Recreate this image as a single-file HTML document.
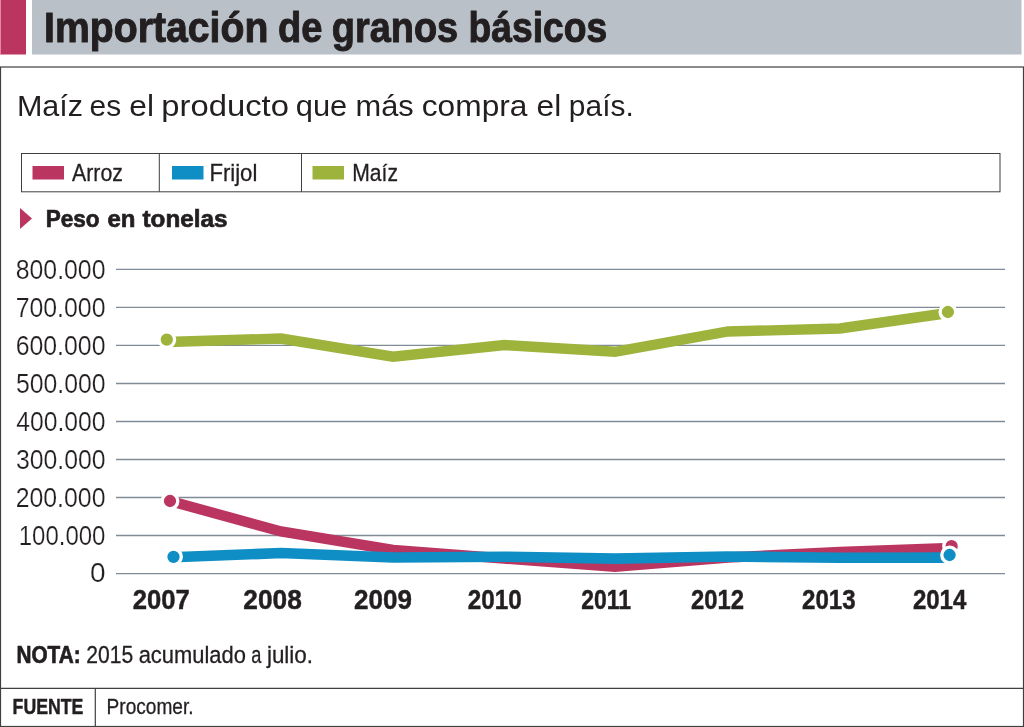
<!DOCTYPE html>
<html lang="es">
<head>
<meta charset="utf-8">
<title>Importación de granos básicos</title>
<style>
html,body{margin:0;padding:0;background:#fff;}
body{width:1024px;height:727px;overflow:hidden;position:relative;}
svg{position:absolute;left:0;top:0;display:block;}
text{font-family:"Liberation Sans",sans-serif;fill:#231f20;white-space:pre;}
.b{font-weight:bold;}
.h{stroke:#231f20;stroke-width:.45;}
.t{stroke:#231f20;stroke-width:1.0;stroke-linejoin:round;}
.m{stroke:#231f20;stroke-width:.3;}
.p{stroke:#231f20;stroke-width:.7;}
.l{stroke:#fff;stroke-width:.2;paint-order:fill stroke;}
</style>
</head>
<body>
<svg width="1024" height="727" viewBox="0 0 1024 727">
  <!-- header -->
  <rect x="0" y="0" width="26" height="54.5" fill="#bb3561"/>
  <rect x="0" y="0" width="0.9" height="54.5" fill="#ee90b0"/>
  <rect x="32" y="0" width="989.5" height="54.5" fill="#b9c0c8"/>
  <text class="b t" y="41.8" font-size="43.0"><tspan x="44.05" textLength="224.31" lengthAdjust="spacingAndGlyphs">Importación</tspan> <tspan x="277.98" textLength="44.43" lengthAdjust="spacingAndGlyphs">de</tspan> <tspan x="331.78" textLength="126.4" lengthAdjust="spacingAndGlyphs">granos</tspan> <tspan x="468.48" textLength="138.73" lengthAdjust="spacingAndGlyphs">básicos</tspan></text>
  <!-- frame -->
  <rect x="0.5" y="67" width="1023" height="659.5" fill="#fff" stroke="#3f3f41" stroke-width="1.2"/>
  <line x1="0" y1="688.3" x2="1024" y2="688.3" stroke="#3f3f41" stroke-width="1.2"/>
  <line x1="95.3" y1="688" x2="95.3" y2="727" stroke="#3f3f41" stroke-width="1.2"/>
  <!-- subtitle -->
  <text y="116.3" font-size="29"><tspan x="16.96" textLength="66.13" lengthAdjust="spacingAndGlyphs">Maíz</tspan> <tspan x="89.55" textLength="31.63" lengthAdjust="spacingAndGlyphs">es</tspan> <tspan x="129.27" textLength="24.7" lengthAdjust="spacingAndGlyphs">el</tspan> <tspan x="161.37" textLength="127.6" lengthAdjust="spacingAndGlyphs">producto</tspan> <tspan x="295.76" textLength="51.53" lengthAdjust="spacingAndGlyphs">que</tspan> <tspan x="355.6" textLength="58.15" lengthAdjust="spacingAndGlyphs">más</tspan> <tspan x="421.77" textLength="105.71" lengthAdjust="spacingAndGlyphs">compra</tspan> <tspan x="536.57" textLength="24.7" lengthAdjust="spacingAndGlyphs">el</tspan> <tspan x="568.85" textLength="64.93" lengthAdjust="spacingAndGlyphs">país.</tspan></text>
  <!-- legend -->
  <rect x="21.5" y="153.5" width="978.5" height="38.3" fill="#fff" stroke="#3f3f41" stroke-width="1"/>
  <line x1="159.3" y1="153.5" x2="159.3" y2="191.8" stroke="#3f3f41" stroke-width="1"/>
  <line x1="301.5" y1="153.5" x2="301.5" y2="191.8" stroke="#3f3f41" stroke-width="1"/>
  <rect x="32.5" y="166" width="31.5" height="13.5" fill="#bb3561"/>
  <rect x="172" y="166" width="31.5" height="13.5" fill="#0e8ec4"/>
  <rect x="312.5" y="166" width="31.5" height="13.5" fill="#9db33c"/>
  <text class="m" y="180.5" font-size="24.3"><tspan x="72.04" textLength="50.86" lengthAdjust="spacingAndGlyphs">Arroz</tspan></text>
  <text class="m" y="180.5" font-size="24.3"><tspan x="209.38" textLength="47.94" lengthAdjust="spacingAndGlyphs">Frijol</tspan></text>
  <text class="m" y="180.5" font-size="24.3"><tspan x="352.21" textLength="45.74" lengthAdjust="spacingAndGlyphs">Maíz</tspan></text>
  <!-- axis title -->
  <polygon points="20,208 32,218.5 20,229" fill="#bb3561"/>
  <text class="b p" y="227" font-size="24.6"><tspan x="45.69" textLength="53.87" lengthAdjust="spacingAndGlyphs">Peso</tspan> <tspan x="107.39" textLength="27.94" lengthAdjust="spacingAndGlyphs">en</tspan> <tspan x="142.51" textLength="84.94" lengthAdjust="spacingAndGlyphs">tonelas</tspan></text>
  <!-- grid -->
  <g stroke="#7f8b97" stroke-width="1.4">
    <line x1="116" y1="269.4" x2="1005" y2="269.4"/>
    <line x1="116" y1="307.4" x2="1005" y2="307.4"/>
    <line x1="116" y1="345.4" x2="1005" y2="345.4"/>
    <line x1="116" y1="383.5" x2="1005" y2="383.5"/>
    <line x1="116" y1="421.5" x2="1005" y2="421.5"/>
    <line x1="116" y1="459.5" x2="1005" y2="459.5"/>
    <line x1="116" y1="497.5" x2="1005" y2="497.5"/>
    <line x1="116" y1="535.5" x2="1005" y2="535.5"/>
    <line x1="116" y1="573.6" x2="1005" y2="573.6"/>
  </g>
  <text class="l" y="278.5" font-size="27.5"><tspan x="15.78" textLength="89.71" lengthAdjust="spacingAndGlyphs">800.000</tspan></text>
  <text class="l" y="316.5" font-size="27.5"><tspan x="15.66" textLength="89.83" lengthAdjust="spacingAndGlyphs">700.000</tspan></text>
  <text class="l" y="354.5" font-size="27.5"><tspan x="15.66" textLength="89.83" lengthAdjust="spacingAndGlyphs">600.000</tspan></text>
  <text class="l" y="392.6" font-size="27.5"><tspan x="15.91" textLength="89.58" lengthAdjust="spacingAndGlyphs">500.000</tspan></text>
  <text class="l" y="430.6" font-size="27.5"><tspan x="16.28" textLength="89.2" lengthAdjust="spacingAndGlyphs">400.000</tspan></text>
  <text class="l" y="468.6" font-size="27.5"><tspan x="15.91" textLength="89.58" lengthAdjust="spacingAndGlyphs">300.000</tspan></text>
  <text class="l" y="506.6" font-size="27.5"><tspan x="15.66" textLength="89.83" lengthAdjust="spacingAndGlyphs">200.000</tspan></text>
  <text class="l" y="544.6" font-size="27.5"><tspan x="18.7" textLength="86.76" lengthAdjust="spacingAndGlyphs">100.000</tspan></text>
  <text class="l" y="582.3" font-size="27.5"><tspan x="90.08" textLength="15.57" lengthAdjust="spacingAndGlyphs">0</tspan></text>
  <!-- series -->
  <g fill="none" stroke-width="10.4" stroke-linejoin="miter" stroke-linecap="butt">
    <polyline stroke="#9db33c" points="167,342 281,338.5 393,356.7 504.5,345 615,351.8 728,331.5 840,328.5 948,313"/>
    <polyline stroke="#bb3561" points="170,501 281,531.5 393,550 504,558.5 615,566.7 728,557.5 840,552 951,548"/>
    <polyline stroke="#0e8ec4" stroke-width="10.6" points="173,557.3 281,553 393,557.5 504,556.7 615,558.6 728,556.5 840,557.8 950,557.6"/>
  </g>
  <g stroke="#fff" stroke-width="3.3">
    <circle cx="166.8" cy="339.6" r="7.8" fill="#9db33c"/>
    <circle cx="947.9" cy="312" r="7.8" fill="#9db33c"/>
    <circle cx="170" cy="501" r="7.8" fill="#bb3561"/>
    <circle cx="951.6" cy="546.2" r="7.8" fill="#bb3561"/>
    <circle cx="173.5" cy="556.8" r="7.8" fill="#0e8ec4"/>
    <circle cx="949.6" cy="555" r="7.8" fill="#0e8ec4"/>
  </g>
  <!-- years -->
  <text class="b h" y="608.5" font-size="27.3"><tspan x="132.63" textLength="57.04" lengthAdjust="spacingAndGlyphs">2007</tspan></text>
  <text class="b h" y="608.5" font-size="27.3"><tspan x="243.3" textLength="58.5" lengthAdjust="spacingAndGlyphs">2008</tspan></text>
  <text class="b h" y="608.5" font-size="27.3"><tspan x="354.01" textLength="57.97" lengthAdjust="spacingAndGlyphs">2009</tspan></text>
  <text class="b h" y="608.5" font-size="27.3"><tspan x="467.78" textLength="53.96" lengthAdjust="spacingAndGlyphs">2010</tspan></text>
  <text class="b h" y="608.5" font-size="27.3"><tspan x="581.22" textLength="49.82" lengthAdjust="spacingAndGlyphs">2011</tspan></text>
  <text class="b h" y="608.5" font-size="27.3"><tspan x="690.99" textLength="53.03" lengthAdjust="spacingAndGlyphs">2012</tspan></text>
  <text class="b h" y="608.5" font-size="27.3"><tspan x="801.98" textLength="53.63" lengthAdjust="spacingAndGlyphs">2013</tspan></text>
  <text class="b h" y="608.5" font-size="27.3"><tspan x="912.88" textLength="53.5" lengthAdjust="spacingAndGlyphs">2014</tspan></text>
  <!-- note -->
  <text class="b p" y="662.5" font-size="24.5"><tspan x="16.4" textLength="64.16" lengthAdjust="spacingAndGlyphs">NOTA:</tspan></text>
  <text class="m" y="662.5" font-size="24.5"><tspan x="86.3" textLength="46.89" lengthAdjust="spacingAndGlyphs">2015</tspan> <tspan x="138.66" textLength="107.21" lengthAdjust="spacingAndGlyphs">acumulado</tspan> <tspan x="251.23" textLength="10.14" lengthAdjust="spacingAndGlyphs">a</tspan> <tspan x="266.91" textLength="46.1" lengthAdjust="spacingAndGlyphs">julio.</tspan></text>
  <!-- source -->
  <text class="b h" y="713.7" font-size="21.5"><tspan x="12.57" textLength="70.82" lengthAdjust="spacingAndGlyphs">FUENTE</tspan></text>
  <text class="m" y="713.7" font-size="21.5"><tspan x="106.62" textLength="86.99" lengthAdjust="spacingAndGlyphs">Procomer.</tspan></text>
</svg>
</body>
</html>
